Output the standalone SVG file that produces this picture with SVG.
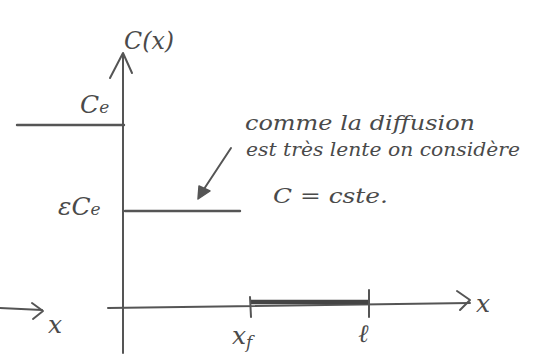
<svg xmlns="http://www.w3.org/2000/svg" width="538" height="361" viewBox="0 0 538 361">
<style>
.ln{stroke:#555;stroke-width:2;fill:none;stroke-linecap:round;stroke-linejoin:round}
.thick{stroke:#444;stroke-width:4.5;fill:none;stroke-linecap:butt}
.hw{font-family:"DejaVu Serif","Liberation Serif",serif;font-style:italic;fill:#4a4a4a}
</style>
<rect width="538" height="361" fill="#ffffff"/>
<g id="axes">
  <path class="ln" d="M123,353 L123,54"/>
  <path class="ln" d="M110,78 L123,53 L132,73"/>
  <path class="ln" d="M108,308 L470,303"/>
  <path class="ln" d="M457,291 L470,300 L460,310"/>
  <path class="ln" d="M0,308 L42,310"/>
  <path class="ln" d="M32,303 L43,311 L33,319"/>
</g>
<g id="profile">
  <path class="ln" d="M17,125 L124,125" style="stroke-width:2.4"/>
  <path class="ln" d="M125,211 L240,211" style="stroke-width:2.4"/>
</g>
<g id="segment">
  <path class="thick" d="M251,302 L369,302"/>
  <path class="ln" d="M250,297 L251,317"/>
  <path class="ln" d="M369,290 L369,317"/>
</g>
<g id="pointer">
  <path class="ln" d="M231,148 L204,189"/>
  <path d="M198,199 L199,186 L210,191 Z" fill="#555" stroke="#555" stroke-width="1.5" stroke-linejoin="round"/>
</g>
<g id="labels">
  <text class="hw" x="124" y="49" font-size="25" textLength="50" lengthAdjust="spacingAndGlyphs">C(x)</text>
  <text class="hw" x="80" y="113" font-size="25">C<tspan font-size="17">e</tspan></text>
  <text class="hw" x="58" y="215" font-size="25">εC<tspan font-size="17">e</tspan></text>
  <text class="hw" x="48" y="333" font-size="25">x</text>
  <text class="hw" x="232" y="344" font-size="25">x<tspan font-size="17" dy="4">f</tspan></text>
  <text class="hw" x="358" y="342" font-size="25">ℓ</text>
  <text class="hw" x="476" y="312" font-size="25">x</text>
</g>
<g id="note">
  <text class="hw" x="245" y="130" font-size="21" textLength="230" lengthAdjust="spacingAndGlyphs">comme la diffusion</text>
  <text class="hw" x="246" y="156" font-size="18" textLength="274" lengthAdjust="spacingAndGlyphs">est très lente on considère</text>
  <text class="hw" x="273" y="203" font-size="21" textLength="115" lengthAdjust="spacingAndGlyphs">C = cste.</text>
</g>
</svg>
